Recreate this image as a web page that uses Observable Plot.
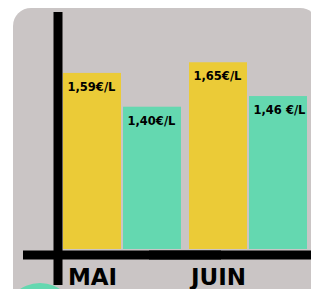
<!DOCTYPE html>
<html><head><meta charset="utf-8">
<script src="https://cdn.jsdelivr.net/npm/d3@7"></script>
<script src="https://cdn.jsdelivr.net/npm/@observablehq/plot@0.6"></script>
<style>
html,body{margin:0;padding:0;background:#fff;overflow:hidden;}
#wrap{position:relative;width:311px;height:289px;overflow:hidden;}
#bg{position:absolute;left:13px;top:8px;width:305px;height:320px;background:#cac5c5;border-radius:18px;}
#dot{position:absolute;left:4px;top:283px;width:72px;height:72px;border-radius:50%;background:#64d8b0;}
#chart{position:absolute;left:0;top:0;}
</style></head><body>
<div id="wrap"><div id="bg"></div><div id="dot"></div><div id="chart"></div></div>
<script>
const months = ["MAI", "JUIN"];
const seriesNames = ["série 1", "série 2"];
const series1Values = [1.59, 1.65];
const series2Values = [1.40, 1.46];
const series1Labels = ["1,59€/L", "1,65€/L"];
const series2Labels = ["1,40€/L", "1,46 €/L"];
const yDomain = [0.6, 2.0];

const rows = months.flatMap((m, i) => [
  {month: m, series: seriesNames[0], value: series1Values[i], label: series1Labels[i]},
  {month: m, series: seriesNames[1], value: series2Values[i], label: series2Labels[i]}
]);
const monthRows = months.map(m => ({month: m, series: seriesNames[0]}));

const plot = Plot.plot({
  width: 311, height: 289,
  marginTop: 0, marginBottom: 40, marginLeft: 63, marginRight: 4,
  style: {background: "transparent"},
  fx: {domain: months, paddingInner: 0.0635, paddingOuter: 0, axis: null},
  x: {domain: seriesNames, paddingInner: 0.034, paddingOuter: 0, axis: null},
  y: {domain: yDomain, clamp: true, axis: null},
  color: {domain: seriesNames, range: ["#ebcb37", "#64d8b0"]},
  marks: [
    Plot.barY(rows, {fx: "month", x: "series", y: "value", fill: "series"}),
    Plot.ruleY([yDomain[0]], {stroke: "#000", strokeWidth: 9, dy: 5.5, insetLeft: -40, insetRight: -40}),
    Plot.ruleX([monthRows[0]], {fx: "month", x: "series", stroke: "#000", strokeWidth: 9, dx: -34.5, insetTop: 12, insetBottom: -36}),
    Plot.text(rows, {fx: "month", x: "series", y: "value", text: "label", textAnchor: "start", lineAnchor: "middle", dx: -25, dy: 14, fontSize: 11.5, fontWeight: "bold", fontFamily: "DejaVu Sans", fill: "#000"}),
    Plot.text(monthRows, {fx: "month", x: "series", frameAnchor: "bottom", text: "month", lineAnchor: "middle", dy: 28.5, fontSize: 23, fontWeight: "bold", fontFamily: "DejaVu Sans", fill: "#000"})
  ]
});
document.getElementById("chart").appendChild(plot);
</script>
</body></html>
